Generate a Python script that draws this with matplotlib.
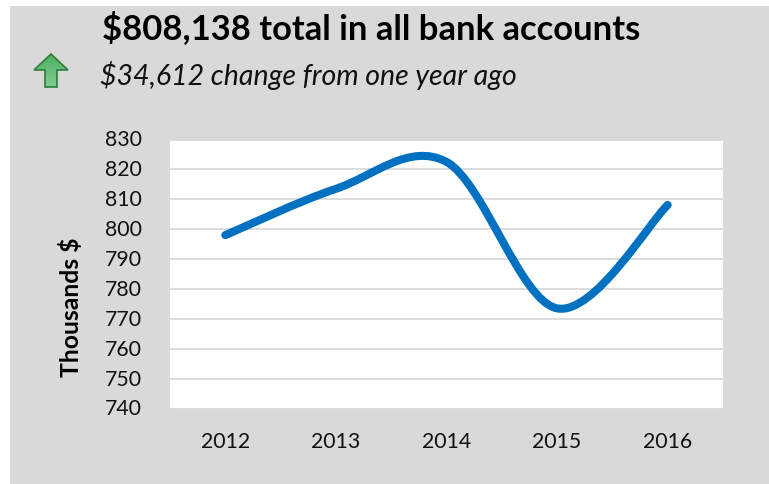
import matplotlib
matplotlib.use("Agg")
import matplotlib.pyplot as plt
import numpy as np
from matplotlib.patches import PathPatch, Polygon, Rectangle
from matplotlib.path import Path
from matplotlib.transforms import ScaledTranslation

W, H = 769, 485

years = ["2012", "2013", "2014", "2015", "2016"]
balances = [798.0, 813.5, 822.5, 773.5, 808.1]
y_ticks = [740, 750, 760, 770, 780, 790, 800, 810, 820, 830]

plt.rcParams["font.family"] = ["Lato", "DejaVu Sans"]


def smooth_path(xs, ys):
    """Bezier segments through the points, like a spreadsheet's smoothed line."""
    verts = [(xs[0], ys[0])]
    codes = [Path.MOVETO]
    n = len(xs)
    for i in range(n - 1):
        x0, y0 = (xs[i - 1], ys[i - 1]) if i > 0 else (xs[i], ys[i])
        x3, y3 = (xs[i + 2], ys[i + 2]) if i + 2 < n else (xs[i + 1], ys[i + 1])
        c1 = (xs[i] + (xs[i + 1] - x0) / 6, ys[i] + (ys[i + 1] - y0) / 6)
        c2 = (xs[i + 1] - (x3 - xs[i]) / 6, ys[i + 1] - (y3 - ys[i]) / 6)
        verts += [c1, c2, (xs[i + 1], ys[i + 1])]
        codes += [Path.CURVE4] * 3
    return Path(verts, codes)


fig = plt.figure(figsize=(W / 100, H / 100), dpi=100, facecolor="white")

# gray panel behind everything
fig.patches.append(Rectangle((10 / W, 0), (W - 10) / W, 1 - 7 / H, zorder=-1,
                             transform=fig.transFigure, fc="#d9d9d9", ec="none"))

ax = fig.add_axes([170 / W, 1 - 409.5 / H, 553 / W, 269 / H])
ax.set_facecolor("white")
ax.set_xlim(-0.5, 4.5)
ax.set_ylim(740, 830)
ax.set_yticks(y_ticks)
ax.set_xticks(range(len(years)))
ax.set_xticklabels(years)
ax.tick_params(length=0, labelsize=15.3, labelcolor="#111111")
ax.tick_params(axis="x", pad=16)
ax.tick_params(axis="y", pad=20)
ax.grid(axis="y", color="#d9d9d9", lw=1.3)
ax.set_axisbelow(True)
for s in ax.spines.values():
    s.set_visible(False)

# nudge the value labels up a little
nudge = ScaledTranslation(0, 2 / 100, fig.dpi_scale_trans)
for label in ax.get_yticklabels():
    label.set_transform(label.get_transform() + nudge)

fig.text(71 / W, 1 - 307 / H, "Thousands $", fontsize=17.8, fontweight="bold", color="black",
         rotation=90, va="center", ha="center")

line = smooth_path(list(range(len(years))), balances)
ax.add_patch(PathPatch(line, fc="none", ec="#0070c0", lw=5.8, capstyle="round", joinstyle="round"))

fig.text(102 / W, 1 - 28 / H, "$808,138 total in all bank accounts", fontsize=24.9,
         fontweight="bold", color="black", va="center", ha="left")
fig.text(100 / W, 1 - 75 / H, "$34,612 change from one year ago", fontsize=20.5,
         fontstyle="italic", color="#111111", va="center", ha="left")

# green up arrow next to the change text, shaded from top to bottom
arrow_px = [(51, 55), (68, 71), (57, 71), (57, 88), (45, 88), (45, 71), (34, 71)]
arrow_ax = fig.add_axes([30 / W, 1 - 92 / H, 42 / W, 41 / H])
arrow_ax.axis("off")
shade = arrow_ax.imshow(np.linspace(0, 1, 64).reshape(-1, 1), extent=(34, 68, 88, 55), aspect="auto",
                        cmap=matplotlib.colors.LinearSegmentedColormap.from_list("arrow", ["#4fae62", "#80cf90"]))
outline = Polygon(arrow_px, closed=True, fc="none", ec="#2f7d3a", lw=1.2)
arrow_ax.add_patch(outline)
shade.set_clip_path(outline)
arrow_ax.set_xlim(30, 72)
arrow_ax.set_ylim(92, 51)

fig.savefig("out.png", dpi=100)
